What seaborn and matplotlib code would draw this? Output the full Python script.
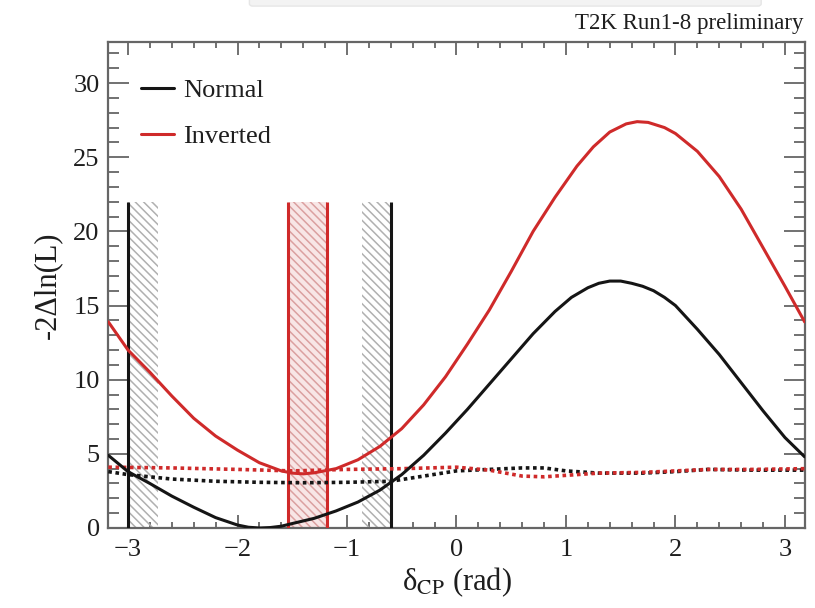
import numpy as np
import pandas as pd
import matplotlib
matplotlib.use("Agg")
import matplotlib.pyplot as plt
from matplotlib.patches import FancyBboxPatch
import seaborn as sns

# ---------------- data ----------------
normal_x = [-3.18, -3.0, -2.8, -2.6, -2.4, -2.2, -2.0, -1.9, -1.8, -1.7, -1.6, -1.5, -1.3, -1.1, -0.9,
            -0.7, -0.5, -0.3, -0.1, 0.1, 0.3, 0.5, 0.7, 0.9, 1.05, 1.2, 1.3, 1.4, 1.5, 1.6, 1.7, 1.8,
            1.9, 2.0, 2.2, 2.4, 2.6, 2.8, 3.0, 3.18]
normal_y = [4.9, 3.8, 3.0, 2.15, 1.4, 0.7, 0.2, 0.05, 0.0, 0.03, 0.12, 0.3, 0.65, 1.15, 1.75,
            2.55, 3.6, 4.9, 6.4, 8.0, 9.7, 11.4, 13.1, 14.6, 15.55, 16.2, 16.5, 16.65, 16.65, 16.5, 16.3, 16.0,
            15.55, 15.0, 13.4, 11.7, 9.8, 7.9, 6.1, 4.8]

inverted_x = [-3.18, -3.0, -2.8, -2.6, -2.4, -2.2, -2.0, -1.8, -1.6, -1.5, -1.4, -1.3, -1.1, -0.9,
              -0.7, -0.5, -0.3, -0.1, 0.1, 0.3, 0.5, 0.7, 0.9, 1.1, 1.25, 1.4, 1.55, 1.65, 1.75, 1.9,
              2.0, 2.2, 2.4, 2.6, 2.8, 3.0, 3.18]
inverted_y = [13.9, 12.0, 10.5, 8.9, 7.4, 6.2, 5.25, 4.4, 3.85, 3.7, 3.65, 3.72, 4.0, 4.6,
              5.5, 6.7, 8.3, 10.2, 12.4, 14.7, 17.3, 20.0, 22.3, 24.4, 25.7, 26.7, 27.25, 27.4, 27.35, 27.0,
              26.6, 25.4, 23.7, 21.5, 18.9, 16.3, 13.9]

crit_normal_x = [-3.18, -3.0, -2.6, -2.2, -1.8, -1.4, -1.0, -0.6, -0.3, 0.0, 0.3, 0.6, 0.8, 1.0,
                 1.3, 1.7, 2.0, 2.3, 2.7, 3.18]
crit_normal_y = [3.8, 3.6, 3.3, 3.15, 3.08, 3.05, 3.08, 3.15, 3.5, 3.85, 3.95, 4.05, 4.05, 3.85,
                 3.7, 3.7, 3.8, 3.95, 3.9, 3.9]

crit_inverted_x = [-3.18, -2.6, -2.0, -1.5, -1.0, -0.5, 0.0, 0.3, 0.6, 0.8, 1.0, 1.3, 1.7, 2.0,
                   2.3, 2.7, 3.18]
crit_inverted_y = [4.1, 4.05, 3.95, 3.85, 3.95, 4.0, 4.1, 3.9, 3.5, 3.45, 3.55, 3.7, 3.75, 3.85,
                   3.95, 3.95, 4.0]

# intervals: vertical lines and hatched error bands
normal_lines = [-3.0, -0.6]
normal_bands = [(-3.0, -2.73), (-0.86, -0.6)]
inverted_lines = [-1.54, -1.18]
inverted_bands = [(-1.54, -1.18)]
interval_top = 22.0

labels = ["Normal", "Inverted"]
title_text = "T2K Run1-8 preliminary"
xticks = [-3, -2, -1, 0, 1, 2, 3]
yticks = [0, 5, 10, 15, 20, 25, 30]

# ---------------- style ----------------
sns.set_theme(style="ticks")
plt.rcParams["font.family"] = ["Liberation Serif", "DejaVu Serif"]
plt.rcParams["mathtext.fontset"] = "stix"
plt.rcParams["hatch.linewidth"] = 1.1

BLACK = "#151515"
RED = "#cf2a2a"
GREY = "#666666"
TXT = "#1e1e1e"

fig = plt.figure(figsize=(8.15, 6.08), dpi=100)
ax = fig.add_axes([0.1325, 0.1316, 0.8552, 0.7993])

# faint slide-header shadow at the very top
fig.patches.append(FancyBboxPatch((0.31, 0.994), 0.62, 0.02, boxstyle="round,pad=0.004",
                                  transform=fig.transFigure, facecolor="#f3f3f3",
                                  edgecolor="#e6e6e6", linewidth=1.0, zorder=0))

# hatched bands
for lo, hi in normal_bands:
    ax.fill_between([lo, hi], 0, interval_top, facecolor="none", edgecolor="#b0b0b0",
                    hatch="\\\\\\\\", linewidth=0, zorder=1)
for lo, hi in inverted_bands:
    ax.fill_between([lo, hi], 0, interval_top, facecolor="#f8e6e6", edgecolor="#dba0a0",
                    hatch="\\\\\\\\", linewidth=0, zorder=1)

ax.vlines(normal_lines, 0, interval_top, colors=BLACK, linewidth=2.2, zorder=3)
ax.vlines(inverted_lines, 0, interval_top, colors=RED, linewidth=2.2, zorder=3)

# critical value (dotted) lines
sns.lineplot(x=crit_normal_x, y=crit_normal_y, ax=ax, color=BLACK, linewidth=2.6,
             linestyle=(0, (1.0, 1.0)), zorder=4)
sns.lineplot(x=crit_inverted_x, y=crit_inverted_y, ax=ax, color=RED, linewidth=2.6,
             linestyle=(0, (1.0, 1.0)), zorder=4)

# likelihood curves
sns.lineplot(x=normal_x, y=normal_y, ax=ax, color=BLACK, linewidth=2.2, label=labels[0], zorder=5)
sns.lineplot(x=inverted_x, y=inverted_y, ax=ax, color=RED, linewidth=2.2, label=labels[1], zorder=5)
for ln in ax.get_lines():
    ln.set_solid_joinstyle("round")

ax.set_xlim(-3.183, 3.183)
ax.set_ylim(0, 32.77)

ax.set_xticks(xticks)
ax.set_yticks(yticks)
ax.set_xticks(np.arange(-3.0, 3.01, 0.2), minor=True)
ax.set_yticks(np.arange(0, 33, 1), minor=True)
ax.tick_params(axis="both", which="both", direction="in", top=True, right=True,
               color=GREY, width=1.3, labelsize=19, labelcolor=TXT)
ax.tick_params(axis="x", which="major", length=9.5, pad=8)
ax.tick_params(axis="x", which="minor", length=4.5)
ax.tick_params(axis="y", which="major", length=15, pad=6)
ax.tick_params(axis="y", which="minor", length=8)
for s in ax.spines.values():
    s.set_color(GREY)
    s.set_linewidth(1.6)

ax.set_xlabel("δ$_{\\rm CP}$ (rad)", fontsize=22, color=TXT, labelpad=3)
ax.set_ylabel("-2Δln(L)", fontsize=22, color=TXT, labelpad=8)

fig.text(0.986, 0.962, title_text, ha="right", va="center", fontsize=16.5, color=TXT)

leg = ax.legend(loc="upper left", bbox_to_anchor=(0.047, 0.925), frameon=False,
                fontsize=19, handlelength=1.25, handletextpad=0.35, labelspacing=0.85,
                borderaxespad=0, borderpad=0)
for t in leg.get_texts():
    t.set_color(TXT)

fig.savefig("out.png", dpi=100)
